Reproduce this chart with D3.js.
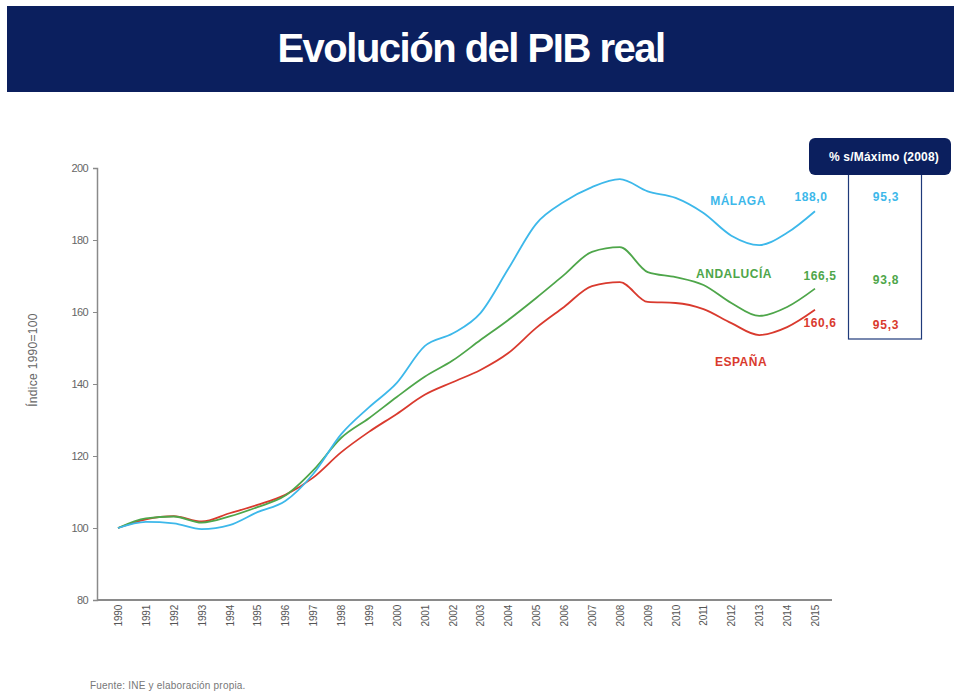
<!DOCTYPE html>
<html>
<head>
<meta charset="utf-8">
<script src="https://cdn.jsdelivr.net/npm/d3@7"></script>
<style>
	body { margin: 0; background: #fff; }
	svg { display: block; font-family: 'Liberation Sans', Arial, sans-serif; }
</style>
</head>
<body>
<div id="chart"></div>
<script>
const years = d3.range(1990, 2016)
const malaga = [100, 101.7, 101.3, 99.7, 100.8, 104.4, 107.5, 115, 126, 133.5, 140.3, 150.5, 154, 159.7, 172, 184.5, 190.6, 194.7, 196.9, 193.5, 191.7, 187.5, 181.2, 178.6, 182, 188]
const andalucia = [100, 102.7, 103.2, 101.5, 103.2, 105.8, 109, 116, 125, 130.5, 136.4, 142, 146.5, 152.2, 157.8, 163.9, 170.3, 176.7, 178, 171.1, 169.7, 167.5, 162.5, 158.9, 161.4, 166.5]
const espana = [100, 102.4, 103.3, 101.8, 104.1, 106.4, 109.2, 114, 121, 126.7, 131.7, 137, 140.5, 143.9, 148.6, 155.6, 161.4, 167.2, 168.3, 162.8, 162.5, 160.8, 156.9, 153.6, 155.8, 160.6]
const yTicks = [80, 100, 120, 140, 160, 180, 200]

const seriesNames = ['MÁLAGA', 'ANDALUCÍA', 'ESPAÑA']
const lastValues = ['188,0', '166,5', '160,6']
const pctOfMax = ['95,3', '93,8', '95,3']

const width = 954
const height = 697
const navy = '#0b1f5e'
const colors = ['#3db8ea', '#4ea64a', '#d93a2e']

const svg = d3.select('#chart').append('svg')
	.attr('width', width)
	.attr('height', height)

// banner
svg.append('rect')
	.attr('x', 7).attr('y', 6)
	.attr('width', width - 7).attr('height', 86)
	.attr('fill', navy)

svg.append('text')
	.attr('x', 471).attr('y', 62)
	.attr('text-anchor', 'middle')
	.attr('fill', '#fff')
	.attr('font-size', 40)
	.attr('font-weight', 'bold')
	.attr('letter-spacing', -1.5)
	.text('Evolución del PIB real')

// scales
const x = d3.scalePoint().domain(years).range([118, 815])
const y = d3.scaleLinear().domain([80, 200]).range([600, 168])

const axisColor = '#8a8a8a'

const yAxis = svg.append('g')
	.attr('transform', 'translate(97,0)')
	.call(d3.axisLeft(y).tickValues(yTicks).tickSize(4).tickPadding(5))
yAxis.select('.domain').attr('stroke', axisColor).attr('stroke-width', 1.5)
yAxis.selectAll('.tick line').attr('stroke', axisColor)
yAxis.selectAll('.tick text')
	.attr('fill', '#666')
	.attr('font-size', 11)
	.attr('letter-spacing', -0.6)

const xAxis = svg.append('g')
	.attr('transform', 'translate(0,600)')
	.call(d3.axisBottom(x).tickSize(0).tickPadding(0).tickFormat(d3.format('d')))
xAxis.select('.domain').attr('d', 'M97,0H832').attr('stroke', axisColor).attr('stroke-width', 2)
xAxis.selectAll('.tick text')
	.attr('transform', 'rotate(-90)')
	.attr('text-anchor', 'end')
	.attr('x', -5)
	.attr('y', 0)
	.attr('dy', '0.35em')
	.attr('fill', '#555')
	.attr('font-size', 10)
	.attr('letter-spacing', -0.2)

svg.append('text')
	.attr('transform', 'translate(37,360) rotate(-90)')
	.attr('text-anchor', 'middle')
	.attr('fill', '#666')
	.attr('font-size', 12)
	.attr('letter-spacing', 0.3)
	.text('Índice 1990=100')

// lines
const line = d3.line()
	.x((d, i) => x(years[i]))
	.y(d => y(d))
	.curve(d3.curveMonotoneX)

const allSeries = [malaga, andalucia, espana]
svg.append('g').selectAll('path')
	.data(allSeries.slice().reverse())
	.join('path')
	.attr('d', line)
	.attr('fill', 'none')
	.attr('stroke', (d, i) => colors[2 - i])
	.attr('stroke-width', 1.8)

// series labels
const nameLabels = [
	{ x: 738, y: 205 },
	{ x: 734, y: 278 },
	{ x: 741, y: 366 },
]
svg.append('g').selectAll('text')
	.data(seriesNames)
	.join('text')
	.attr('x', (d, i) => nameLabels[i].x)
	.attr('y', (d, i) => nameLabels[i].y)
	.attr('text-anchor', 'middle')
	.attr('fill', (d, i) => colors[i])
	.attr('font-size', 12)
	.attr('font-weight', 'bold')
	.attr('letter-spacing', 0.5)
	.text(d => d)

const endLabels = [
	{ x: 811, y: 201 },
	{ x: 820, y: 280 },
	{ x: 820, y: 327 },
]
svg.append('g').selectAll('text')
	.data(lastValues)
	.join('text')
	.attr('x', (d, i) => endLabels[i].x)
	.attr('y', (d, i) => endLabels[i].y)
	.attr('text-anchor', 'middle')
	.attr('fill', (d, i) => colors[i])
	.attr('font-size', 12)
	.attr('font-weight', 'bold')
	.attr('letter-spacing', 0.6)
	.text(d => d)

// % over max box
svg.append('rect')
	.attr('x', 848.5).attr('y', 172)
	.attr('width', 73).attr('height', 167)
	.attr('fill', 'none')
	.attr('stroke', '#1f3a7a')
	.attr('stroke-width', 1.2)

svg.append('rect')
	.attr('x', 809).attr('y', 138)
	.attr('width', 142).attr('height', 37)
	.attr('rx', 6)
	.attr('fill', navy)

svg.append('text')
	.attr('x', 884).attr('y', 161)
	.attr('text-anchor', 'middle')
	.attr('fill', '#fff')
	.attr('font-size', 12)
	.attr('font-weight', 'bold')
	.attr('letter-spacing', 0.2)
	.text('% s/Máximo (2008)')

const pctY = [201, 284, 329]
svg.append('g').selectAll('text')
	.data(pctOfMax)
	.join('text')
	.attr('x', 886)
	.attr('y', (d, i) => pctY[i])
	.attr('text-anchor', 'middle')
	.attr('fill', (d, i) => colors[i])
	.attr('font-size', 12)
	.attr('font-weight', 'bold')
	.attr('letter-spacing', 0.8)
	.text(d => d)

// source
svg.append('text')
	.attr('x', 90).attr('y', 689)
	.attr('fill', '#777')
	.attr('font-size', 10)
	.attr('letter-spacing', 0.2)
	.text('Fuente: INE y elaboración propia.')
</script>
</body>
</html>
